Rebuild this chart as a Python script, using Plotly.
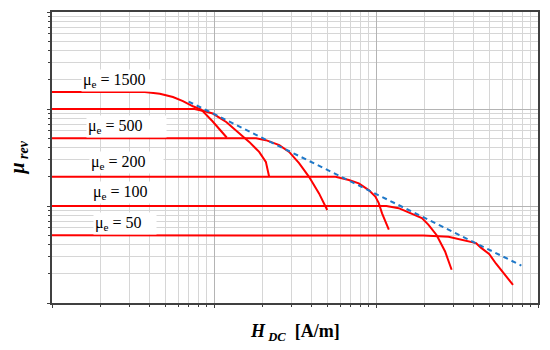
import plotly.graph_objects as go

# ---- data (H in A/m, mu_rev) ----
h_1500 = [1, 3.74, 4.63, 5.58, 6.43, 7.41, 8.34, 9.79, 11.98]
mu_1500 = [1500, 1500, 1439, 1328, 1208, 1067, 986, 748, 508]

h_1000 = [1, 7.59, 8.74, 9.83, 11.9, 14.3, 16.5, 19.0, 20.9, 21.9]
mu_1000 = [1000, 1000, 946, 898, 735, 566, 458, 361, 285, 200]

h_500 = [1, 18.2, 20.9, 25.3, 29.1, 33.5, 38.6, 44.5, 50.0]
mu_500 = [500, 500, 477, 424, 361, 277, 200, 135, 91]

h_200 = [1, 56.3, 68.0, 78.3, 90.2, 99.1, 104, 109, 120]
mu_200 = [200, 200, 185, 171, 146, 125, 107, 84, 57]

h_100 = [1, 116, 138, 166, 192, 211, 237, 267, 293]
mu_100 = [100, 100, 95, 84, 75, 64, 50, 34, 22]

h_50 = [1, 128, 196, 280, 346, 415, 446, 499, 551, 609, 701]
mu_50 = [50, 50, 49.5, 48.3, 44.8, 41.4, 37, 32.1, 25.4, 20.5, 15.4]

h_env = [6.97, 789]
mu_env = [1194, 24.3]

labels = ["1500", "500", "200", "100", "50"]
# label box positions (paper coords) and widths
label_x = [0.0602, 0.0705, 0.0766, 0.0807, 0.0848]
label_y = [0.765, 0.607, 0.4817, 0.380, 0.274]
label_w = [77, 77, 71, 69, 60]

x_major = [1, 10, 100, 1000]
x_minor = [2, 3, 4, 5, 6, 7, 8, 9, 20, 30, 40, 50, 60, 70, 80, 90,
           200, 300, 400, 500, 600, 700, 800, 900]
y_major = [10, 100, 1000, 10000]
y_minor = [20, 30, 40, 50, 60, 70, 80, 90, 200, 300, 400, 500, 600, 700, 800, 900,
           2000, 3000, 4000, 5000, 6000, 7000, 8000, 9000]

fig = go.Figure()
red = "#ff0000"
for hx, my in [(h_1500, mu_1500), (h_1000, mu_1000), (h_500, mu_500),
               (h_200, mu_200), (h_100, mu_100), (h_50, mu_50)]:
    fig.add_trace(go.Scatter(x=hx, y=my, mode="lines",
                             line=dict(color=red, width=2),
                             showlegend=False, hoverinfo="skip"))
fig.add_trace(go.Scatter(x=h_env, y=mu_env, mode="lines",
                         line=dict(color="#1f78c8", width=2, dash="5px,4px"),
                         showlegend=False, hoverinfo="skip"))

serif = "Liberation Serif, Times New Roman, serif"
annotations = []
for t, xx, yy, w in zip(labels, label_x, label_y, label_w):
    annotations.append(dict(
        text="μ<sub>e</sub> = " + t, x=xx, y=yy, xref="paper", yref="paper",
        xanchor="left", yanchor="middle", align="left", width=w,
        showarrow=False, bgcolor="white", borderpad=1,
        font=dict(family=serif, size=16, color="black")))

annotations.append(dict(
    text="<b><i>H</i></b><sub><b><i> DC</i></b></sub><b>  [A/m]</b>",
    x=0.5, y=-0.055, xref="paper", yref="paper", xanchor="center", yanchor="top",
    showarrow=False, font=dict(family=serif, size=18, color="black")))
annotations.append(dict(
    text="<b><i>μ</i></b><sub><b><i> rev</i></b></sub>",
    x=-0.04, y=0.5, xref="paper", yref="paper", xanchor="right", yanchor="middle",
    textangle=-90, showarrow=False, font=dict(family=serif, size=20, color="black")))

axis_common = dict(
    type="log", showticklabels=False, ticks="outside", ticklen=3, tickcolor="#404040",
    showgrid=True, gridcolor="#b4b4b4", gridwidth=1,
    showline=True, linecolor="#404040", linewidth=2, mirror=True, zeroline=False,
)

fig.update_layout(
    width=550, height=350,
    margin=dict(l=52, r=10, t=11, b=47),
    paper_bgcolor="white", plot_bgcolor="white",
    xaxis=dict(range=[0, 3], tickmode="array", tickvals=x_major,
               minor=dict(tickmode="array", tickvals=x_minor, ticks="outside", ticklen=2,
                          tickcolor="#404040", showgrid=True, gridcolor="#d6d6d6"),
               **axis_common),
    yaxis=dict(range=[1, 4], tickmode="array", tickvals=y_major,
               minor=dict(tickmode="array", tickvals=y_minor, ticks="outside", ticklen=2,
                          tickcolor="#404040", showgrid=True, gridcolor="#d6d6d6"),
               **axis_common),
    annotations=annotations,
)

fig.write_html("out.html", config={"displayModeBar": False},
               post_script="document.body.style.margin='0px';document.body.style.overflow='hidden';")
